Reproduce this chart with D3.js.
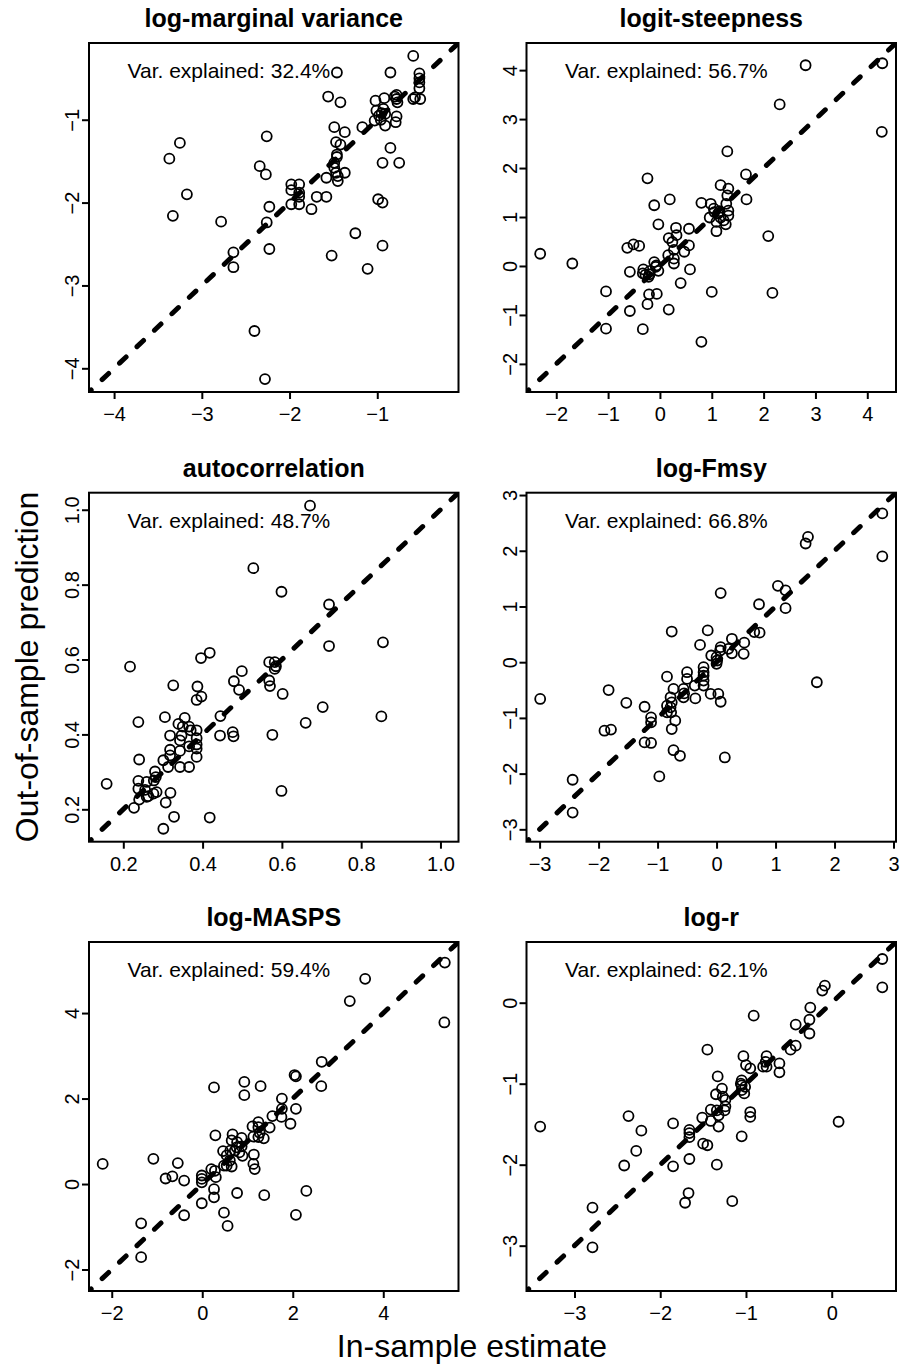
<!DOCTYPE html>
<html>
<head>
<meta charset="utf-8">
<script src="https://cdn.jsdelivr.net/npm/d3@7"></script>
<style>
  body { margin: 0; background: #fff; }
  text { font-family: "Liberation Sans", Arial, sans-serif; fill: #000; }
</style>
</head>
<body>
<svg id="chart" width="907" height="1364"></svg>
<script>
const titles = ["log-marginal variance", "logit-steepness", "autocorrelation", "log-Fmsy", "log-MASPS", "log-r"]
const varExplained = [32.4, 56.7, 48.7, 66.8, 59.4, 62.1]
const tickValues = [
  [-4, -3, -2, -1],
  [-2, -1, 0, 1, 2, 3, 4],
  [0.2, 0.4, 0.6, 0.8, 1.0],
  [-3, -2, -1, 0, 1, 2, 3],
  [-2, 0, 2, 4],
  [-3, -2, -1, 0]
]

// [in-sample estimate, out-of-sample prediction]
const margVar = [
  [-0.59,-0.23],[-0.85,-0.43],[-1.46,-0.43],[-0.52,-0.44],[-0.52,-0.50],[-0.52,-0.55],[-0.52,-0.62],[-0.51,-0.75],[-0.59,-0.75],[-0.57,-0.73],
  [-1.56,-0.72],[-1.42,-0.79],[-1.02,-0.77],[-0.92,-0.74],[-0.78,-0.70],[-0.78,-0.75],[-0.77,-0.79],[-0.80,-0.72],
  [-1.01,-0.89],[-0.93,-0.87],[-0.91,-0.93],[-0.96,-1.00],[-1.03,-1.01],[-0.91,-1.07],[-0.78,-0.96],[-0.79,-1.03],[-0.98,-0.95],[-0.95,-0.92],
  [-1.17,-1.09],[-1.49,-1.09],[-1.37,-1.15],[-1.47,-1.27],[-1.42,-1.30],[-2.26,-1.20],[-3.25,-1.28],[-3.37,-1.47],[-0.85,-1.34],
  [-1.46,-1.42],[-1.46,-1.45],[-0.94,-1.52],[-0.75,-1.52],[-1.49,-1.52],[-1.49,-1.58],[-1.47,-1.64],[-1.37,-1.64],[-1.45,-1.74],[-1.58,-1.70],[-1.45,-1.68],
  [-2.34,-1.56],[-2.27,-1.66],[-3.17,-1.90],[-1.98,-1.78],[-1.98,-1.85],[-1.89,-1.78],[-1.89,-1.88],[-1.89,-1.93],[-1.69,-1.93],[-1.58,-1.93],
  [-1.98,-2.02],[-1.89,-2.02],[-1.75,-2.08],[-2.23,-2.05],[-0.99,-1.96],[-0.94,-2.00],[-3.33,-2.16],[-2.78,-2.23],[-2.26,-2.24],[-1.25,-2.37],
  [-0.94,-2.52],[-2.23,-2.56],[-2.64,-2.60],[-2.64,-2.78],[-1.52,-2.64],[-1.11,-2.80],[-2.40,-3.55],[-2.28,-4.13]
]
const steepness = [
  [2.81,4.10],[4.29,4.14],[2.31,3.30],[4.28,2.74],[1.30,2.34],[-0.24,1.79],[1.66,1.87],[1.17,1.65],[1.32,1.58],[1.30,1.44],[1.67,1.36],[0.19,1.36],[0.80,1.29],[-0.11,1.24],
  [0.98,1.27],[1.04,1.17],[1.12,1.07],[1.28,1.27],[1.32,1.13],[1.32,1.03],[1.23,0.93],[1.27,0.85],[1.09,0.90],[1.09,0.71],[0.96,0.99],[1.17,0.99],[1.05,1.10],[1.15,1.12],
  [-0.03,0.85],[0.31,0.78],[0.56,0.76],[0.32,0.63],[0.17,0.57],[0.56,0.42],[0.24,0.49],[0.27,0.33],[0.47,0.29],[-0.63,0.37],[-0.51,0.44],[-0.40,0.41],[-2.31,0.25],[-1.69,0.05],
  [0.16,0.22],[0.27,0.15],[0.27,0.05],[-0.11,0.08],[-0.07,0.01],[-0.03,-0.10],[-0.08,-0.02],
  [-0.32,-0.07],[-0.33,-0.15],[-0.22,-0.22],[-0.20,-0.17],[-0.58,-0.12],[-0.19,-0.10],[-0.28,-0.18],
  [0.58,-0.07],[0.40,-0.35],[-1.04,-0.52],[1.00,-0.53],[2.17,-0.55],[-0.21,-0.58],[-0.06,-0.57],[2.09,0.61],[-0.24,-0.78],[-0.58,-0.92],[0.17,-0.89],[-1.04,-1.28],[-0.33,-1.29],[0.80,-1.55]
]
const autocorr = [
  [0.671,1.011],[0.528,0.844],[0.599,0.781],[0.719,0.747],[0.855,0.646],[0.719,0.636],[0.418,0.618],[0.396,0.604],[0.217,0.581],
  [0.568,0.593],[0.582,0.593],[0.585,0.582],[0.582,0.575],[0.499,0.569],[0.479,0.542],[0.568,0.544],[0.570,0.529],[0.492,0.519],
  [0.326,0.531],[0.387,0.528],[0.602,0.508],[0.397,0.501],[0.385,0.492],[0.703,0.473],[0.445,0.449],[0.851,0.448],[0.305,0.446],[0.355,0.444],
  [0.238,0.433],[0.660,0.431],[0.339,0.428],[0.350,0.421],[0.366,0.421],[0.370,0.411],[0.385,0.411],[0.476,0.406],[0.478,0.395],[0.444,0.397],
  [0.576,0.399],[0.318,0.397],[0.347,0.397],[0.343,0.384],[0.385,0.390],[0.385,0.373],[0.385,0.362],[0.385,0.340],[0.366,0.368],[0.343,0.356],
  [0.318,0.359],[0.318,0.344],[0.240,0.333],[0.301,0.331],[0.313,0.313],[0.343,0.313],[0.366,0.313],[0.280,0.301],[0.282,0.286],[0.158,0.268],
  [0.238,0.276],[0.259,0.273],[0.277,0.277],[0.238,0.255],[0.255,0.252],[0.284,0.246],[0.276,0.242],[0.263,0.235],[0.240,0.226],[0.259,0.233],
  [0.319,0.244],[0.599,0.249],[0.307,0.218],[0.227,0.204],[0.328,0.180],[0.418,0.178],[0.301,0.148]
]
const fmsy = [
  [2.81,2.67],[1.55,2.25],[1.51,2.13],[2.81,1.90],[1.04,1.37],[1.17,1.29],[0.07,1.24],[0.72,1.04],[1.17,0.97],[0.64,0.54],[0.73,0.53],
  [-0.76,0.55],[-0.15,0.57],[-0.28,0.31],[0.26,0.42],[0.47,0.35],[0.46,0.15],[0.26,0.16],[0.20,0.24],[0.07,0.27],[0.06,0.21],[-0.09,0.12],
  [0.00,0.09],[0.01,0.03],[0.00,-0.03],[-0.84,-0.26],[-0.50,-0.18],[-0.50,-0.30],[-0.22,-0.09],[-0.22,-0.18],[-0.22,-0.24],[-0.22,-0.33],[-0.22,-0.42],
  [-0.37,-0.42],[-0.36,-0.65],[-0.56,-0.48],[-0.55,-0.56],[-0.56,-0.63],[-0.73,-0.48],[-0.10,-0.57],[0.03,-0.57],[0.07,-0.71],
  [-1.83,-0.50],[-1.53,-0.73],[-2.99,-0.66],[-1.22,-0.80],[-0.78,-0.63],[-0.76,-0.72],[-0.78,-0.81],[-0.84,-0.78],[-0.84,-0.90],[-0.77,-0.90],
  [-1.11,-0.99],[-1.11,-1.08],[-0.70,-1.05],[-0.76,-1.20],[1.70,-0.36],[-1.90,-1.23],[-1.79,-1.21],[-1.22,-1.44],[-1.11,-1.45],
  [-0.73,-1.58],[-0.62,-1.68],[0.14,-1.71],[-0.97,-2.05],[-2.44,-2.11],[-2.44,-2.70]
]
const masps = [
  [5.36,5.18],[3.60,4.80],[3.26,4.28],[5.35,3.78],[2.64,2.86],[2.04,2.55],[2.07,2.52],[2.63,2.29],[0.93,2.39],[0.26,2.26],[1.29,2.29],[0.93,2.08],
  [1.76,2.00],[2.07,1.76],[1.76,1.76],[1.75,1.57],[1.55,1.59],[1.95,1.41],[1.49,1.32],[1.24,1.45],[1.24,1.33],[1.11,1.35],
  [1.27,1.20],[1.36,1.07],[1.24,1.10],[1.13,1.11],[0.29,1.14],[0.67,1.16],[0.65,1.02],[0.77,0.98],[0.87,1.08],[0.76,0.86],[0.87,0.88],
  [0.72,0.78],[0.62,0.78],[0.82,0.74],[0.89,0.66],[0.46,0.77],[0.54,0.67],[0.61,0.55],[0.65,0.41],[0.54,0.43],[0.48,0.43],
  [1.14,0.69],[1.13,0.47],[1.16,0.35],[-1.08,0.59],[-0.54,0.49],[-2.20,0.47],[0.20,0.35],[0.28,0.31],[0.30,0.16],[-0.66,0.18],[-0.81,0.13],
  [-0.40,0.08],[-0.01,0.20],[-0.01,0.12],[-0.01,0.04],[0.26,-0.12],[2.30,-0.16],[0.77,-0.21],[1.37,-0.26],[0.26,-0.31],[-0.01,-0.45],
  [0.48,-0.67],[-0.40,-0.73],[2.07,-0.72],[0.56,-0.98],[-1.35,-0.92],[-1.35,-1.71]
]
const logR = [
  [0.59,0.54],[0.59,0.19],[-0.08,0.21],[-0.11,0.15],[-0.25,-0.06],[-0.91,-0.16],[-0.26,-0.21],[-0.42,-0.27],[-0.26,-0.38],[-0.42,-0.53],[-0.48,-0.58],
  [-1.45,-0.58],[-1.03,-0.66],[-0.76,-0.66],[-0.77,-0.73],[-0.80,-0.79],[-0.76,-0.79],[-0.61,-0.75],[-0.61,-0.86],[-1.00,-0.77],[-0.95,-0.81],
  [-1.33,-0.91],[-1.05,-0.96],[-1.05,-1.02],[-1.05,-1.08],[-1.02,-1.12],[-1.06,-1.00],[-1.01,-1.04],[-1.28,-1.06],
  [-1.35,-1.13],[-1.27,-1.16],[-1.24,-1.20],[-1.24,-1.28],[-1.25,-1.33],[-1.41,-1.32],[-1.34,-1.33],[-1.32,-1.39],[-1.41,-1.46],
  [-0.95,-1.35],[-0.95,-1.41],[-1.51,-1.42],[-2.37,-1.40],[-3.40,-1.53],[-1.85,-1.49],[-2.22,-1.58],[-1.66,-1.57],[-1.66,-1.61],[-1.66,-1.66],
  [-1.32,-1.53],[0.08,-1.47],[-1.05,-1.65],[-1.50,-1.74],[-1.45,-1.76],[-2.28,-1.83],[-1.66,-1.93],[-2.42,-2.01],[-1.85,-2.02],[-1.34,-2.00],
  [-1.67,-2.35],[-1.71,-2.47],[-1.16,-2.45],[-2.79,-2.53],[-2.79,-3.02]
]
const panels = [margVar, steepness, autocorr, fmsy, masps, logR]

const colX = [89, 526.5]
const rowY = [43, 492.7, 942]
const w = 369.5
const h = 349

const svg = d3.select("#chart")

// R-style limits: shared range of both axes, padded 4% each side
function limits(pts) {
  const ext = d3.extent(pts.flat())
  const pad = (ext[1] - ext[0]) * 0.04
  return [ext[0] - pad, ext[1] + pad]
}

panels.forEach((pts, i) => {
  const left = colX[i % 2]
  const top = rowY[Math.floor(i / 2)]
  const lim = limits(pts)
  const x = d3.scaleLinear().domain(lim).range([0, w])
  const y = d3.scaleLinear().domain(lim).range([h, 0])
  const fmt = i === 2 ? d3.format(".1f") : d3.format("d")

  const g = svg.append("g").attr("transform", `translate(${left},${top})`)

  g.append("clipPath").attr("id", `clip${i}`)
    .append("rect").attr("width", w).attr("height", h)

  g.append("line")
    .attr("clip-path", `url(#clip${i})`)
    .attr("x1", x(lim[0])).attr("y1", y(lim[0]))
    .attr("x2", x(lim[1])).attr("y2", y(lim[1]))
    .attr("stroke", "#000")
    .attr("stroke-width", 5)
    .attr("stroke-linecap", "round")
    .attr("stroke-dasharray", "9 15")
    .attr("stroke-dashoffset", 6)

  g.selectAll("circle")
    .data(pts)
    .join("circle")
    .attr("cx", (d) => x(d[0]))
    .attr("cy", (d) => y(d[1]))
    .attr("r", 5)
    .attr("fill", "none")
    .attr("stroke", "#000")
    .attr("stroke-width", 1.8)

  const xaxis = g.append("g")
    .attr("transform", `translate(0,${h})`)
    .call(d3.axisBottom(x).tickValues(tickValues[i]).tickFormat(fmt).tickSize(7).tickPadding(8))
  const yaxis = g.append("g")
    .call(d3.axisLeft(y).tickValues(tickValues[i]).tickFormat(fmt).tickSize(7))

  ;[xaxis, yaxis].forEach((a) => {
    a.select(".domain").remove()
    a.selectAll("line").attr("stroke", "#000").attr("stroke-width", 2)
    a.selectAll("text")
      .attr("fill", "#000")
      .style("font-size", "20px")
      .style("font-family", '"Liberation Sans", Arial, sans-serif')
  })
  yaxis.selectAll("text")
    .attr("x", 0).attr("dy", 0)
    .attr("text-anchor", "middle")
    .attr("transform", "translate(-10,0) rotate(-90)")

  g.append("rect")
    .attr("width", w).attr("height", h)
    .attr("fill", "none")
    .attr("stroke", "#000")
    .attr("stroke-width", 2)

  g.append("text")
    .attr("x", w / 2).attr("y", -16)
    .attr("text-anchor", "middle")
    .style("font-size", "25px")
    .style("font-weight", "bold")
    .text(titles[i])

  g.append("text")
    .attr("x", 38.5).attr("y", 35)
    .style("font-size", "21px")
    .text(`Var. explained: ${varExplained[i]}%`)
})

svg.append("text")
  .attr("transform", "translate(38,667) rotate(-90)")
  .attr("text-anchor", "middle")
  .style("font-size", "32px")
  .text("Out-of-sample prediction")

svg.append("text")
  .attr("x", 472).attr("y", 1357)
  .attr("text-anchor", "middle")
  .style("font-size", "32px")
  .text("In-sample estimate")
</script>
</body>
</html>
